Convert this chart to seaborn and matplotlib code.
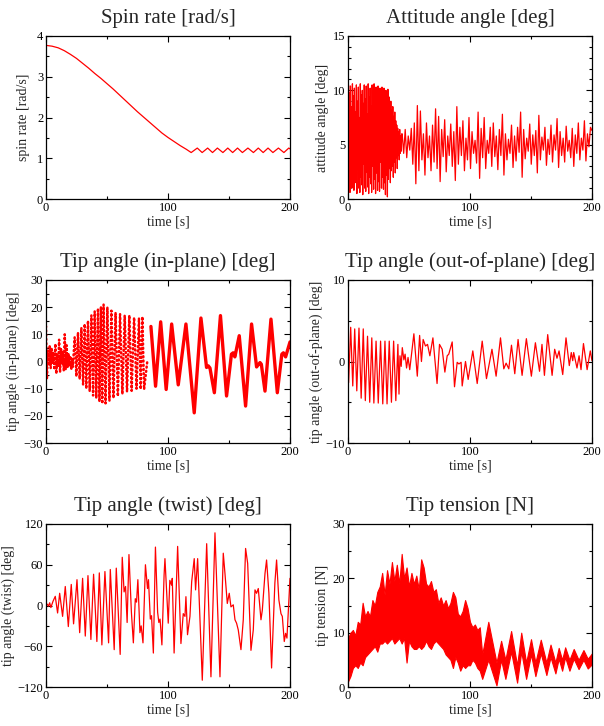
import numpy as np
import matplotlib
matplotlib.use("Agg")
import matplotlib.pyplot as plt
from matplotlib.ticker import MultipleLocator
import seaborn as sns

# ---- spin rate [rad/s]
spin_t = [0, 5, 10, 15, 20, 25, 30, 35, 40, 45, 50, 55, 60, 65, 70, 75, 80,
          85, 90, 95, 100, 105, 110, 115, 119,
          124, 128, 132.5, 136.5, 140.5, 145, 149, 153, 157, 161, 165.5,
          170, 174, 178, 182, 186, 190.5, 195, 199, 200]
spin_v = [3.77, 3.75, 3.71, 3.64, 3.55, 3.45, 3.33, 3.21, 3.08, 2.96, 2.83,
          2.70, 2.56, 2.42, 2.28, 2.14, 2.01, 1.88, 1.75, 1.62, 1.51, 1.41,
          1.31, 1.22, 1.14,
          1.25, 1.14, 1.25, 1.14, 1.25, 1.14, 1.25, 1.14, 1.25, 1.14, 1.25,
          1.14, 1.25, 1.14, 1.25, 1.14, 1.25, 1.14, 1.25, 1.23]

# ---- attitude angle [deg], dense part 0-44 s then extrema 44-200 s
att_dense = [2.0, 10.5, 1.2, 9.8, 0.6, 10.4, 3.0, 8.5, 1.0, 10.6,
             2.2, 9.5, 0.8, 10.2, 4.0, 8.0, 1.5, 10.5, 0.5, 9.0,
             2.8, 10.3, 1.0, 7.5, 0.6, 10.6, 2.0, 9.6, 1.3, 10.0,
             0.4, 8.8, 3.2, 10.5, 1.0, 9.2, 0.7, 10.4, 2.5, 7.8,
             1.1, 10.6, 0.5, 9.4, 2.0, 10.2, 1.4, 8.6, 0.6, 10.5,
             3.0, 9.9, 0.9, 10.6, 1.8, 8.2, 0.5, 10.3, 2.4, 9.5,
             0.8, 10.4, 1.6, 9.0, 0.7, 10.2, 3.4, 9.8, 1.0, 10.3,
             2.0, 8.7, 0.9, 10.2, 1.5, 9.6, 0.4, 10.0, 2.2, 9.2,
             0.2, 10.1, 1.8, 9.4, 2.8, 8.6, 1.5, 9.0, 2.6, 8.2,
             3.0, 8.5, 2.0, 7.6, 3.4, 8.0, 2.4, 7.2, 3.8, 6.8,
             2.8, 6.5, 4.0, 6.2, 3.6, 6.4, 4.2, 5.8, 4.4, 6.0]
att_peaks = [6.0, 4.2, 6.4, 3.8, 5.8, 4.5, 6.5, 3.2, 7.0, 1.4,
             8.6, 2.6, 8.1, 3.6, 6.0, 2.2, 7.0, 3.8, 5.8, 2.6,
             6.8, 3.4, 8.3, 2.8, 7.6, 1.6, 6.4, 3.9, 7.3, 2.5,
             5.8, 4.0, 6.9, 3.0, 6.2, 1.7, 8.5, 3.2, 6.6, 4.0,
             7.2, 2.6, 5.6, 3.6, 7.5, 2.8, 6.2, 4.2, 5.4, 3.3,
             8.0, 1.9, 6.5, 3.8, 7.5, 2.8, 5.4, 4.2, 6.6, 3.0,
             7.0, 3.9, 5.8, 2.7, 6.4, 4.0, 7.8, 2.2, 6.0, 3.6,
             5.5, 4.2, 6.8, 2.9, 5.8, 3.5, 6.6, 4.3, 8.0, 2.0,
             6.4, 3.7, 5.6, 4.4, 6.9, 3.2, 5.9, 4.0, 6.3, 2.4,
             7.7, 3.6, 5.7, 4.5, 6.6, 3.1, 5.5, 4.1, 6.8, 3.4,
             5.9, 4.5, 7.4, 2.9, 6.2, 4.0, 5.6, 3.4, 6.7, 4.4,
             5.4, 3.8, 6.5, 3.0, 5.9, 4.2, 7.0, 3.6, 5.6, 4.5,
             7.2, 3.5, 6.0, 4.8, 6.6, 6.3]

# ---- tip angle in-plane [deg]: sampled (dotted) part, then smooth part
inp_early = [13.0, -6.5, 4.0, -1.5, 6.0, -2.5, 5.0, -1.0, 3.5, -3.0,
             6.5, -4.5, 3.0, -2.0, 8.0, -4.0, 5.0, -1.0, 4.0, -3.5,
             10.0, -3.0, 6.0, -2.0, 3.0, -1.5, 2.0, -3.0, 1.0]
inp_mid_t = [22.0, 23.5, 24.9, 26.2, 27.6, 29.0, 30.4, 31.7, 33.0, 34.4,
             35.8, 37.2, 38.6, 39.9, 41.2, 42.6, 43.8, 45.0, 46.1, 47.2,
             48.8, 50.3, 52.0, 53.6, 55.3, 57.0, 58.9, 60.7, 62.6, 64.5,
             66.4, 68.3, 70.2, 72.2, 74.2, 76.2, 77.6, 79.0, 80.4, 83.0]
inp_mid_v = [-2.0, 8.9, -5.5, 10.7, -6.5, 12.4, -8.5, 13.8, -10.0, 15.0,
             -11.0, 17.0, -12.5, 18.5, -13.5, 19.5, -14.8, 20.2, -15.5, 21.0,
             -15.4, 20.0, -14.5, 18.7, -13.5, 18.0, -12.8, 17.5, -12.0, 17.0,
             -11.2, 17.0, -10.8, 16.2, -10.0, 16.0, -10.2, 16.5, -10.3, 0.0]
inp_late_t = [86.0, 89.8, 94.0, 98.5, 103.0, 108.4, 114.7, 121.5, 127.0,
              131.6, 133.0, 134.4, 138.0, 143.0, 148.0, 152.0, 153.4, 154.8,
              158.4, 163.6, 168.5, 172.6, 175.4, 176.5, 179.5, 184.4, 189.6,
              193.3, 194.6, 196.4, 200.0]
inp_late_v = [12.9, -9.1, 14.6, -10.3, 13.8, -8.6, 13.8, -18.9, 16.0,
              -2.2, -1.6, -2.4, -11.5, 16.9, -12.7, 2.7, 3.2, 1.7,
              9.5, -16.4, 13.8, -2.0, -0.4, -1.0, -10.9, 15.6, -11.5,
              2.7, 3.2, 1.7, 7.2]

# ---- tip angle out-of-plane [deg]
oop_t = [0, 0.5, 2.2, 3.9, 5.5, 7.2, 9.0, 10.8, 12.5, 14.2, 16.0, 17.8,
         19.5, 21.2, 23.0, 24.8, 26.7, 28.5, 30.3, 32.0, 33.8, 35.6, 37.4,
         39.2, 40.9, 41.8, 42.6, 43.6, 44.5, 45.8, 46.8, 48.0, 49.2, 50.6,
         52.0, 54.0, 56.8, 58.7, 60.2, 61.6, 63.5, 65.2, 67.1, 69.6, 73.0,
         75.0, 77.2, 79.4, 81.3, 82.6, 85.4, 87.3, 89.5, 90.9, 92.7, 93.6,
         96.3, 98.5, 102.3, 105.9, 110.0, 113.5, 116.0, 118.0, 121.4, 125.0,
         127.7, 129.6, 131.8, 134.0, 136.7, 139.4, 142.7, 146.2, 150.3,
         153.6, 157.0, 159.0, 161.0, 163.7, 167.3, 169.4, 171.3, 173.0,
         176.0, 178.7, 181.4, 183.0, 184.2, 185.0, 187.7, 189.4, 191.0,
         193.0, 196.0, 198.6, 200.0]
oop_v = [1.9, -2.6, 4.2, -3.0, 4.0, -3.6, 4.1, -4.5, 4.0, -4.8, 3.1, -5.0,
         2.9, -5.1, 2.5, -5.1, 2.5, -5.2, 2.5, -5.2, 2.5, -5.0, 2.5,
         -4.8, 2.1, -4.0, 0.7, -0.6, 1.7, 0.2, 0.9, -0.8, 0.5, -1.0,
         0.8, 3.4, -1.8, 3.2, 0.0, 2.7, 1.9, 2.1, 0.7, 2.9, -2.7,
         2.1, 1.5, -1.3, 0.7, 0.9, 2.4, -3.1, -0.1, -0.3, -0.1, -3.0,
         0.0, -2.2, 1.3, -2.7, 2.5, -2.1, -0.1, 1.5, -1.8, 2.9,
         -0.9, -0.2, -0.9, 2.0, -1.5, 2.7, -1.7, 2.8, -1.8,
         2.3, -1.2, 2.1, -1.7, 3.3, -1.7, 1.5, 0.4, 1.3,
         -1.6, 2.9, -0.5, 1.1, 0.1, 1.1, -0.8, 0.7, -1.0,
         2.2, -1.0, 1.3, 0.1]

# ---- tip angle twist [deg]
tw_t = [0, 1.0, 2.0, 3.0, 4.0, 5.7, 7.6, 9.5, 11.2, 13.6, 15.8, 18.3, 20.7,
        22.6, 25.4, 27.6, 30.0, 32.2, 34.4, 36.8, 39.0, 41.7, 43.7, 45.8,
        48.3, 51.3, 52.7, 55.9, 57.6, 60.8, 62.5, 64.0, 65.2, 66.5, 68.0,
        70.0, 71.6, 73.2, 74.2, 75.3, 77.0, 78.0, 79.5, 81.5, 83.2, 84.0,
        85.5, 86.5, 88.0, 89.7, 91.5, 92.5, 93.5, 95.0, 96.8, 97.5, 100.2,
        101.5, 102.9, 103.5, 105.0, 107.9, 110.6, 112.5, 113.9, 114.7, 116.0,
        118.0, 119.4, 121.5, 122.6, 124.3, 128.1, 131.7, 135.2, 138.5, 142.6,
        145.3, 146.7, 148.6, 150.2, 151.6, 153.5, 154.9, 156.2, 157.6, 159.8,
        161.7, 163.6, 165.3, 168.0, 169.9, 171.3, 172.6, 174.0, 176.2, 177.3,
        179.5, 180.8, 182.7, 184.9, 187.6, 189.0, 190.9, 192.6, 193.7, 195.3,
        196.4, 197.5, 199.0, 200.0]
tw_v = [0, 2, -1, 4, -3, 6, 13.5, -11, 18, -16, 28, -31, 31,
        -27, 38, -40, 40, -45, 44, -50, 46, -53, 48, -58,
        50, -55, 53, -65, 55, -72, 71, 20, 28, -25, 75,
        -10, -55, 10, 5, 38, -40, -30, -55, 60, 25, 38,
        -20, -15, -70, 86, -10, -25, -20, -58, 45, 69, -26,
        37, 30, 40, -70, 87, -56, -12, -16, 13, -43,
        -16, 35, 69, 23, 69, -110, 91, -105, 107, -105,
        77, 47, 3, 18, -2, 1, -21, -26, -36, -65,
        -21, 84, 62, -66, -36, 23, 18, 25, -21, -7,
        47, 67, 18, -92, 33, 67, 8, -12, -16, -53,
        -41, -48, 5, 40]

# ---- tip tension [N]: envelope of the fast oscillation
ten_t = [0, 2, 4, 6, 8, 10, 12, 14, 16, 18, 20, 22, 24, 26, 28, 30, 32, 34,
         36, 38, 40, 42, 44, 46, 48, 50, 52, 54, 56, 58, 60, 62, 64, 66, 68,
         70, 72, 74, 76, 78, 80, 82, 84, 86, 88, 90, 92, 94, 96, 98, 100,
         102, 104, 106, 108,
         110, 115, 121.7, 125.5, 129, 133.7, 138.6, 142, 146, 150, 153.6,
         158, 162.6, 166, 170, 172.7, 175.5, 178, 181.5, 185, 189, 193,
         196.5, 200]
ten_hi = [9, 10, 10.5, 9.5, 12, 11.5, 15.5, 13, 14, 13, 16, 15, 17.5, 18.5,
          21, 17, 21.5, 19, 23, 19.5, 22.5, 19, 24.5, 20, 22, 18.5, 21, 19,
          20.5, 18, 23.5, 22, 19, 18.5, 19.5, 17.5, 18, 15.5, 16.5, 15, 16,
          14.5, 15.5, 17.5, 16.5, 13.5, 13, 14, 16, 14.5, 12, 11, 11.5, 10.5,
          11,
          6, 12, 4.5, 8.5, 5, 10.3, 4, 10, 4.5, 8.8, 4.5, 8.7, 4.5, 7.8, 4.5,
          7.2, 5, 7.3, 5, 7, 5, 6.8, 5.2, 6.2]
ten_lo = [1, 2, 3.5, 4, 3.5, 4.5, 4, 5.5, 6, 6.5, 7, 7.5, 6.5, 8, 8, 8.5, 8,
          8.5, 9, 8, 8.5, 9, 8, 9, 4.5, 8.5, 7.5, 7, 7, 7.5, 7, 7.5, 8.5, 7.5,
          7, 8, 8.5, 8, 7.5, 7, 6, 5.5, 5, 3.5, 5.5, 4.5, 3, 4, 3.5, 4, 4, 5,
          4.5, 3.5, 3,
          1.5, 5, 0.3, 5, 1.5, 6.5, 0.8, 6.5, 1.5, 6, 2, 6.2, 2.2, 5.5, 2.5,
          5.2, 3, 5.5, 3, 5.2, 3.3, 5, 3.4, 4.2]

RED = "#ff0000"

sns.set_style("ticks")
plt.rcParams["font.family"] = ["Liberation Serif", "DejaVu Serif"]
plt.rcParams["axes.linewidth"] = 0.9


def style_ax(ax, ylim, ymaj, ymin, ylabel, title, labelpad=3):
    ax.set_xlim(0, 200)
    ax.set_ylim(*ylim)
    ax.xaxis.set_major_locator(MultipleLocator(100))
    ax.xaxis.set_minor_locator(MultipleLocator(50))
    ax.yaxis.set_major_locator(MultipleLocator(ymaj))
    ax.yaxis.set_minor_locator(MultipleLocator(ymin))
    ax.tick_params(which="both", direction="in", top=True, right=True,
                   width=0.8, labelsize=9, pad=2, colors="black")
    ax.tick_params(which="major", length=4)
    ax.tick_params(which="minor", length=2.5)
    ax.set_xlabel("time [s]", fontsize=10, labelpad=1)
    ax.set_ylabel(ylabel, fontsize=10, labelpad=labelpad)
    ax.set_title(title, fontsize=15, pad=9)
    for sp in ax.spines.values():
        sp.set_visible(True)
        sp.set_color("black")


def line(ax, t, v, **kw):
    sns.lineplot(x=np.asarray(t, float), y=np.asarray(v, float), ax=ax,
                 color=RED, sort=False, estimator=None, **kw)


fig = plt.figure(figsize=(6.04, 7.26), dpi=100)
cols = [46 / 604, 348 / 604]
rows = [1 - 199 / 726, 1 - 443 / 726, 1 - 687 / 726]
w, h = 244 / 604, 163 / 726
axs = [[fig.add_axes([c, r, w, h]) for c in cols] for r in rows]

# spin rate
ax = axs[0][0]
line(ax, spin_t, spin_v, linewidth=0.9)
style_ax(ax, (0, 4), 1, 0.5, "spin rate [rad/s]", "Spin rate [rad/s]",
         labelpad=5)

# attitude angle
ax = axs[0][1]
att_t = np.concatenate([np.linspace(0, 44, len(att_dense)),
                        np.linspace(44.4, 200, len(att_peaks))])
line(ax, att_t, att_dense + att_peaks, linewidth=0.9)
style_ax(ax, (0, 15), 5, 1, "attitude angle [deg]", "Attitude angle [deg]")

# in-plane
ax = axs[1][0]
inp_t = list(np.linspace(0, 21.5, len(inp_early))) + inp_mid_t
line(ax, inp_t, inp_early + inp_mid_v, linewidth=1.8,
     linestyle=(0, (0.4, 1.3)), dash_capstyle="round")
line(ax, inp_late_t, inp_late_v, linewidth=2.4, solid_joinstyle="round")
style_ax(ax, (-30, 30), 10, 5, "tip angle (in-plane) [deg]",
         "Tip angle (in-plane) [deg]", labelpad=3)

# out-of-plane
ax = axs[1][1]
line(ax, oop_t, oop_v, linewidth=0.9)
style_ax(ax, (-10, 10), 10, 5, "tip angle (out-of-plane) [deg]",
         "Tip angle (out-of-plane) [deg]", labelpad=2)

# twist
ax = axs[2][0]
line(ax, tw_t, tw_v, linewidth=0.9)
style_ax(ax, (-120, 120), 60, 30, "tip angle (twist) [deg]",
         "Tip angle (twist) [deg]", labelpad=2)

# tension
ax = axs[2][1]
ax.fill_between(ten_t, ten_lo, ten_hi, color=RED, linewidth=0.8,
                edgecolor=RED)
style_ax(ax, (0, 30), 10, 5, "tip tension [N]", "Tip tension [N]")

fig.savefig("out.png", dpi=100)
